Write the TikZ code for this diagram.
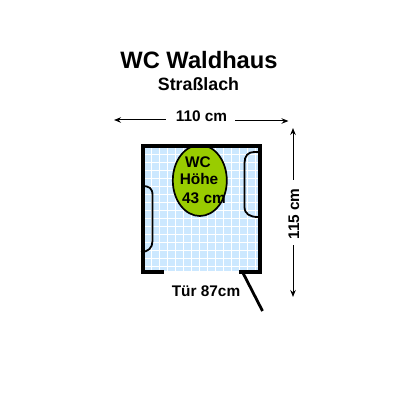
\documentclass[tikz,border=0pt]{standalone}
\usepackage{fontspec}
\setmainfont{Liberation Sans}
\usetikzlibrary{arrows.meta,shapes.geometric}
\definecolor{tile}{RGB}{204,232,255}
\definecolor{bowlgreen}{RGB}{153,204,0}
\begin{document}
\begin{tikzpicture}[x=1pt,y=-1pt,
  wall/.style={line width=3.6pt,line cap=rect,black},
  fixture/.style={line width=1.8pt,black},
  dim/.style={line width=1pt,-{Stealth[length=7pt,width=5.5pt]}},
  gridline/.style={white,line width=1pt},
  lab/.style={font=\bfseries\fontsize{15.4}{17}\selectfont,inner sep=0pt,align=center}]
\useasboundingbox (0,0) rectangle (400,411);
\fill[white] (0,0) rectangle (400,411);
% floor
\fill[tile] (143,146) rectangle (260,271);
\foreach \i in {0,...,13} \draw[gridline] (151.5+\i*8,146) -- (151.5+\i*8,271);
\foreach \j in {0,...,15} \draw[gridline] (143,146.5+\j*8) -- (260,146.5+\j*8);
% toilet
\node[ellipse,draw=black,line width=1.7pt,fill=bowlgreen,minimum width=54pt,minimum height=71pt,inner sep=0pt] (bowl) at (199.8,180.5) {};
\node[lab] (wc) at (198,162) {WC};
\node[lab] (hoehe) at (199,179) {Höhe};
\node[lab] (h43) at (204,198) {43 cm};
% walls
\coordinate (w1) at (162,272);
\coordinate (w2) at (143,272);
\coordinate (w3) at (143,146);
\coordinate (w4) at (260,146);
\coordinate (w5) at (260,272);
\coordinate (w6) at (241,272);
\coordinate (d1) at (242.5,272);
\coordinate (d2) at (262.5,311);
\draw[wall,line join=miter] (w1) -- (w2) -- (w3) -- (w4) -- (w5) -- (w6);
\draw[line width=2.8pt,black] (d1) -- (d2);
% fixtures
\draw[fixture] (142,186) .. controls (149,186) and (152.5,188) .. (152.5,195) -- (152.5,241) .. controls (152.5,248) and (148,252) .. (141,252);
\draw[fixture] (258,152) -- (254,152) .. controls (248,152) and (244.5,156) .. (244.5,163) -- (244.5,207) .. controls (244.5,214) and (250,217) .. (258,217);
% title
\node[font=\bfseries\fontsize{23.7}{26}\selectfont,inner sep=0pt] (title) at (199,60) {WC Waldhaus};
\node[font=\bfseries\fontsize{17.8}{20}\selectfont,inner sep=0pt] (sub) at (198.5,84) {Straßlach};
% dimensions
\node[lab] (width) at (201.5,116) {110 cm};
\node[lab,rotate=90] (height) at (294,214) {115 cm};
\node[lab] (door) at (206,291) {Tür 87cm};
\coordinate (wl) at (114,120);
\coordinate (wr) at (288.5,121);
\coordinate (ht) at (293,128);
\coordinate (hb) at (293,297);
\draw[dim] (165.5,120) -- (wl);
\draw[dim] (235,121) -- (wr);
\draw[dim] (293,180) -- (ht);
\draw[dim] (293,245) -- (hb);
\end{tikzpicture}
\end{document}
